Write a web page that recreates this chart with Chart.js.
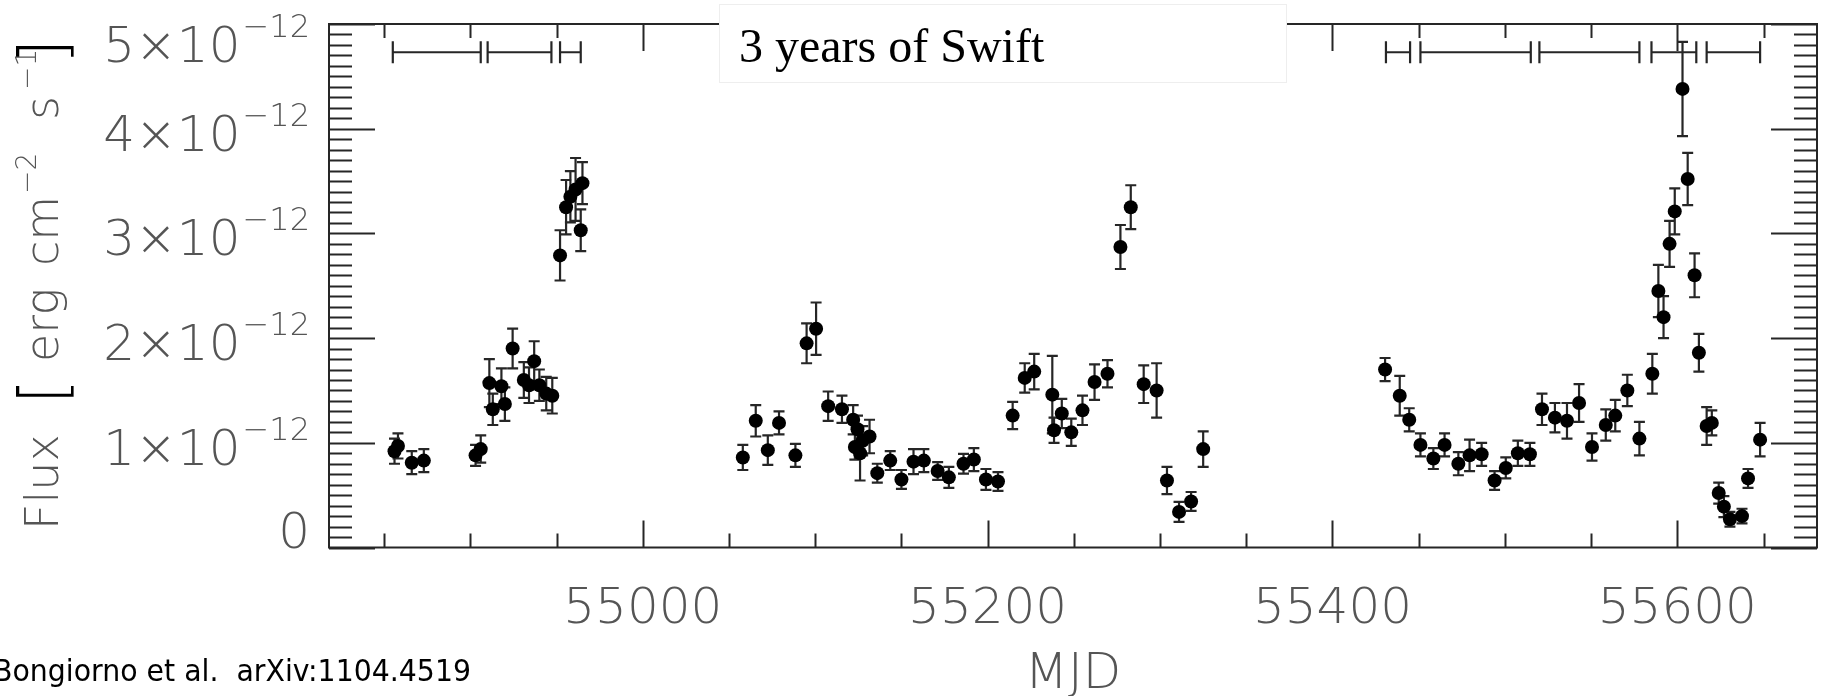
<!DOCTYPE html>
<html>
<head>
<meta charset="utf-8">
<script src="https://cdn.jsdelivr.net/npm/chart.js@4.4.0/dist/chart.umd.min.js"></script>
<style>
  html, body { margin: 0; padding: 0; background: #fff; }
  #wrap { width: 1824px; height: 696px; }
</style>
</head>
<body>
<div id="wrap"><canvas id="mycanvas" width="1824" height="696"></canvas></div>
<script>
// Swift light curve, flux in units of 1e-12 erg cm^-2 s^-1
var mjd = [
  54856, 54858, 54866, 54873, 54903, 54906, 54911, 54913, 54918, 54920,
  54924.5, 54931, 54934, 54937, 54940, 54944, 54947.5, 54952, 54955.5, 54958,
  54961, 54964, 54965,
  55058, 55065.5, 55072.5, 55079, 55088.5, 55095, 55100.5, 55107.5, 55115.5, 55122,
  55124.5, 55123, 55126, 55127.5, 55131.5, 55136, 55143.5, 55150, 55157, 55163,
  55171, 55177.5, 55186, 55192, 55199, 55206, 55214.5, 55221.5, 55227, 55237.5,
  55238.5, 55243, 55248.5, 55255, 55262, 55269.5, 55277, 55283, 55290.5, 55298,
  55304, 55311, 55318, 55325,
  55430.5, 55439, 55444.5, 55451, 55458.5, 55465, 55473, 55479.5, 55486.5, 55494,
  55500.5, 55507.5, 55514.5, 55521.5, 55529, 55536, 55543, 55550.5, 55558.5, 55564,
  55571, 55578, 55585.5, 55589, 55592, 55595.5, 55598.5, 55603, 55606, 55610,
  55612.5, 55617, 55620, 55624, 55627, 55630.5, 55637.5, 55641, 55648
];
var flux = [
  0.92, 0.97, 0.81, 0.83, 0.88, 0.94, 1.57, 1.32, 1.54, 1.37,
  1.90, 1.60, 1.55, 1.78, 1.55, 1.47, 1.45, 2.79, 3.25, 3.35,
  3.42, 3.03, 3.48,
  0.86, 1.21, 0.93, 1.19, 0.88, 1.95, 2.09, 1.35, 1.32, 1.22,
  1.13, 0.96, 0.90, 1.02, 1.06, 0.71, 0.83, 0.65, 0.82, 0.83,
  0.73, 0.67, 0.80, 0.84, 0.65, 0.63, 1.26, 1.62, 1.68, 1.46,
  1.12, 1.28, 1.10, 1.31, 1.58, 1.66, 2.87, 3.25, 1.56, 1.50,
  0.64, 0.34, 0.44, 0.94,
  1.70, 1.45, 1.22, 0.98, 0.85, 0.98, 0.80, 0.88, 0.89, 0.64,
  0.76, 0.90, 0.89, 1.32, 1.24, 1.21, 1.38, 0.96, 1.17, 1.26,
  1.50, 1.04, 1.66, 2.45, 2.20, 2.90, 3.21, 4.38, 3.52, 2.60,
  1.86, 1.16, 1.19, 0.52, 0.39, 0.27, 0.30, 0.66, 1.03
];
var fluxErr = [
  0.12, 0.12, 0.11, 0.11, 0.10, 0.13, 0.23, 0.15, 0.17, 0.16,
  0.19, 0.17, 0.17, 0.19, 0.15, 0.16, 0.17, 0.24, 0.26, 0.245,
  0.30, 0.20, 0.20,
  0.12, 0.15, 0.14, 0.11, 0.11, 0.19, 0.25, 0.14, 0.13, 0.14,
  0.13, 0.12, 0.26, 0.14, 0.16, 0.09, 0.09, 0.09, 0.12, 0.11,
  0.085, 0.10, 0.095, 0.11, 0.10, 0.09, 0.13, 0.14, 0.17, 0.37,
  0.12, 0.14, 0.13, 0.14, 0.17, 0.13, 0.21, 0.21, 0.18, 0.26,
  0.13, 0.095, 0.09, 0.17,
  0.11, 0.19, 0.11, 0.11, 0.10, 0.11, 0.11, 0.15, 0.11, 0.09,
  0.10, 0.12, 0.11, 0.15, 0.14, 0.17, 0.18, 0.13, 0.15, 0.15,
  0.15, 0.16, 0.19, 0.25, 0.20, 0.22, 0.22, 0.45, 0.25, 0.21,
  0.18, 0.18, 0.12, 0.10, 0.10, 0.07, 0.07, 0.09, 0.16
];

// observing intervals drawn as bars along the top
var segStart = [54855, 54910, 54952, 55431, 55451, 55520, 55585, 55617];
var segEnd   = [54906, 54947, 54964, 55445, 55515, 55578, 55611, 55648];
var segLevel = 4.73;

var yTicks = [0, 1, 2, 3, 4, 5];
var xTicks = [55000, 55200, 55400, 55600];
var xMinorStep = 50;
var yMinorStep = 0.1;
var xMin = 54818, xMax = 55681;

var labelFont = '"DejaVu Sans", sans-serif';
var gray = '#555';
var ink = '#262626';

var points = [];
for (var i = 0; i < mjd.length; i++) {
  points.push({x: mjd[i], y: flux[i]});
}

function drawPower(ctx, mant, xRight, baseline) {
  // "N×10" with a raised "−12"
  ctx.font = '200 32px ' + labelFont;
  var sup = '\u221212';
  var ws = ctx.measureText(sup).width;
  ctx.textAlign = 'left';
  ctx.fillText(sup, xRight - ws, baseline - 25);
  ctx.font = '200 50px ' + labelFont;
  var base = mant + '\u00d710';
  var wb = ctx.measureText(base).width;
  ctx.fillText(base, xRight - ws - wb - 2, baseline);
}

var lightCurve = {
  id: 'lightCurve',
  beforeDatasetsDraw: function(chart) {
    var ctx = chart.ctx, xs = chart.scales.x, ys = chart.scales.y;
    ctx.save();
    ctx.strokeStyle = ink;
    ctx.lineWidth = 2.2;
    ctx.beginPath();
    for (var i = 0; i < mjd.length; i++) {
      var px = xs.getPixelForValue(mjd[i]);
      var top = ys.getPixelForValue(flux[i] + fluxErr[i]);
      var bot = ys.getPixelForValue(flux[i] - fluxErr[i]);
      ctx.moveTo(px, top); ctx.lineTo(px, bot);
      ctx.moveTo(px - 5.5, top); ctx.lineTo(px + 5.5, top);
      ctx.moveTo(px - 5.5, bot); ctx.lineTo(px + 5.5, bot);
    }
    var sy = ys.getPixelForValue(segLevel);
    for (var j = 0; j < segStart.length; j++) {
      var a = xs.getPixelForValue(segStart[j]);
      var b = xs.getPixelForValue(segEnd[j]);
      ctx.moveTo(a, sy); ctx.lineTo(b, sy);
      ctx.moveTo(a, sy - 11); ctx.lineTo(a, sy + 11);
      ctx.moveTo(b, sy - 11); ctx.lineTo(b, sy + 11);
    }
    ctx.stroke();
    ctx.restore();
  },
  afterDraw: function(chart) {
    var ctx = chart.ctx, xs = chart.scales.x, ys = chart.scales.y;
    var area = chart.chartArea;
    ctx.save();

    // frame and inward ticks
    ctx.strokeStyle = ink;
    ctx.lineWidth = 2;
    ctx.beginPath();
    ctx.rect(area.left, area.top, area.right - area.left, area.bottom - area.top);
    for (var v = 0; v <= 5.0001; v += yMinorStep) {
      var py = Math.round(ys.getPixelForValue(v)) + 0.5;
      var major = Math.abs(v - Math.round(v)) < 1e-6;
      var len = major ? 46 : 23;
      ctx.moveTo(area.left, py); ctx.lineTo(area.left + len, py);
      ctx.moveTo(area.right, py); ctx.lineTo(area.right - len, py);
    }
    for (var t = Math.ceil(xMin / xMinorStep) * xMinorStep; t <= xMax; t += xMinorStep) {
      var px = Math.round(xs.getPixelForValue(t)) + 0.5;
      var lenX = (t % 200 === 0) ? 27 : 14;
      ctx.moveTo(px, area.bottom); ctx.lineTo(px, area.bottom - lenX);
      ctx.moveTo(px, area.top); ctx.lineTo(px, area.top + lenX);
    }
    ctx.stroke();

    // tick labels
    ctx.fillStyle = gray;
    ctx.textBaseline = 'alphabetic';
    for (var k = 0; k < yTicks.length; k++) {
      var ty = ys.getPixelForValue(yTicks[k]);
      var baseline = Math.min(Math.max(ty + 22, area.top + 38), area.bottom);
      if (yTicks[k] === 0) {
        ctx.font = '200 50px ' + labelFont;
        ctx.textAlign = 'right';
        ctx.fillText('0', 310, baseline);
      } else {
        drawPower(ctx, yTicks[k], 310, baseline);
      }
    }
    ctx.font = '200 50px ' + labelFont;
    ctx.textAlign = 'center';
    for (var m = 0; m < xTicks.length; m++) {
      ctx.fillText(String(xTicks[m]), xs.getPixelForValue(xTicks[m]), 623);
    }
    ctx.fillText('MJD', (area.left + area.right) / 2, 688);

    // y axis title
    ctx.save();
    ctx.translate(58, 530);
    ctx.rotate(-Math.PI / 2);
    ctx.textAlign = 'left';
    ctx.font = '200 46px ' + labelFont;
    ctx.fillText('Flux', 0, 0);
    ctx.fillText('erg', 168, 0);
    ctx.fillText('cm', 264, 0);
    ctx.fillText('s', 410, 0);
    ctx.font = '200 28px ' + labelFont;
    ctx.fillText('\u22122', 336, -22);
    ctx.fillText('\u22121', 440, -22);
    ctx.fillStyle = '#000';
    ctx.font = '200 64px ' + labelFont;
    ctx.fillText('[', 126, 7);
    ctx.fillText(']', 466, 7);
    ctx.restore();

    // caption box
    ctx.fillStyle = '#fff';
    ctx.fillRect(719, 4, 567, 78);
    ctx.strokeStyle = '#eeeeee';
    ctx.lineWidth = 1;
    ctx.strokeRect(719.5, 4.5, 567, 78);
    ctx.fillStyle = '#000';
    ctx.textAlign = 'left';
    ctx.font = '48px "Liberation Serif", "Times New Roman", serif';
    ctx.fillText('3 years of Swift', 739, 62);

    // credit
    ctx.font = '30px "Comic Sans MS", "DejaVu Sans", sans-serif';
    ctx.fillText('Bongiorno et al.  arXiv:1104.4519', -7, 681, 478);

    ctx.restore();
  }
};

var ctx = document.getElementById('mycanvas');
var lcChart = new Chart(ctx, {
  type: 'scatter',
  data: {
    datasets: [{
      label: 'Swift flux',
      data: points,
      backgroundColor: '#000',
      borderColor: '#000',
      borderWidth: 0,
      pointRadius: 7,
      pointHoverRadius: 7
    }]
  },
  options: {
    responsive: false,
    animation: false,
    layout: { padding: { left: 329, right: 4, top: 24, bottom: 148.5 } },
    plugins: { legend: { display: false }, tooltip: { enabled: false } },
    scales: {
      x: { type: 'linear', min: xMin, max: xMax, display: false },
      y: { type: 'linear', min: 0, max: 5, display: false }
    }
  },
  plugins: [lightCurve]
});
</script>
</body>
</html>
